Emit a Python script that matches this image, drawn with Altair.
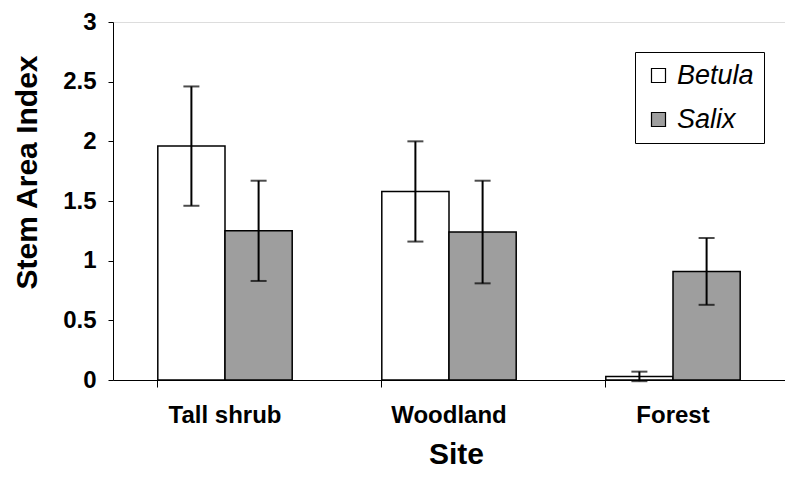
import altair as alt
import pandas as pd

sites = ["Tall shrub", "Woodland", "Forest"]
species = ["Betula", "Salix"]
betula_mean = [1.96, 1.58, 0.03]
betula_err = [0.50, 0.42, 0.04]
salix_mean = [1.25, 1.24, 0.91]
salix_err = [0.42, 0.43, 0.28]

rows = []
for i, s in enumerate(sites):
    rows.append({"Site": s, "Species": "Betula", "SAI": betula_mean[i],
                 "lo": betula_mean[i] - betula_err[i], "hi": betula_mean[i] + betula_err[i]})
    rows.append({"Site": s, "Species": "Salix", "SAI": salix_mean[i],
                 "lo": salix_mean[i] - salix_err[i], "hi": salix_mean[i] + salix_err[i]})
df = pd.DataFrame(rows)

FONT = "Liberation Sans"

x = alt.X("Site:N", sort=sites, title="Site",
          scale=alt.Scale(paddingInner=0.4, paddingOuter=0.2),
          axis=alt.Axis(labelAngle=0, bandPosition=0, tickSize=7, tickColor="black",
                        domainColor="black", labelFontSize=24, labelFontWeight="bold",
                        labelFont=FONT, labelColor="black", labelPadding=16,
                        titleFontSize=30, titleFontWeight="bold", titleFont=FONT,
                        titleColor="black", titleX=343, titleY=74,
                        titleBaseline="middle", titleAlign="center"))
xo = alt.XOffset("Species:N", sort=species)

bars = alt.Chart(df).mark_bar(stroke="black", strokeWidth=1.5).encode(
    x=x, xOffset=xo,
    y=alt.Y("SAI:Q", title="Stem Area Index",
            scale=alt.Scale(domain=[0, 3], nice=False),
            axis=alt.Axis(values=[0, 0.5, 1, 1.5, 2, 2.5, 3], format="~g", grid=False,
                          tickSize=5, tickColor="black", domainColor="black",
                          labelFontSize=24, labelFontWeight="bold", labelFont=FONT,
                          labelColor="black", labelPadding=12, titleFontSize=30,
                          titleFontWeight="bold", titleFont=FONT, titleColor="black",
                          titleX=-86, titleY=150, titleAngle=270,
                          titleBaseline="middle", titleAlign="center")),
    fill=alt.Fill("Species:N", sort=species,
                  scale=alt.Scale(domain=species, range=["white", "#9e9e9e"]),
                  legend=alt.Legend(title=None, orient="none", legendX=522, legendY=30,
                                    symbolType="square", symbolSize=196,
                                    symbolStrokeColor="black", symbolStrokeWidth=1.2,
                                    labelFontSize=27, labelFontStyle="italic",
                                    labelFont=FONT, labelColor="black",
                                    strokeColor="black", padding=10, rowPadding=16,
                                    labelOffset=5)),
)

rules = alt.Chart(df).mark_rule(color="black", strokeWidth=2).encode(
    x=x, xOffset=xo, y="lo:Q", y2="hi:Q")
caps_hi = alt.Chart(df).mark_tick(color="black", size=16, thickness=2).encode(
    x=x, xOffset=xo, y="hi:Q")
caps_lo = alt.Chart(df).mark_tick(color="black", size=16, thickness=2).encode(
    x=x, xOffset=xo, y="lo:Q")

chart = alt.layer(bars, rules, caps_hi, caps_lo).properties(
    width=672, height=358,
    autosize=alt.AutoSizeParams(type="none"),
    padding={"left": 105, "top": 14, "right": 0, "bottom": 92},
).configure_view(stroke=None).configure(background="white")

chart.save("out.html", embed_options={"renderer": "svg", "actions": False})
